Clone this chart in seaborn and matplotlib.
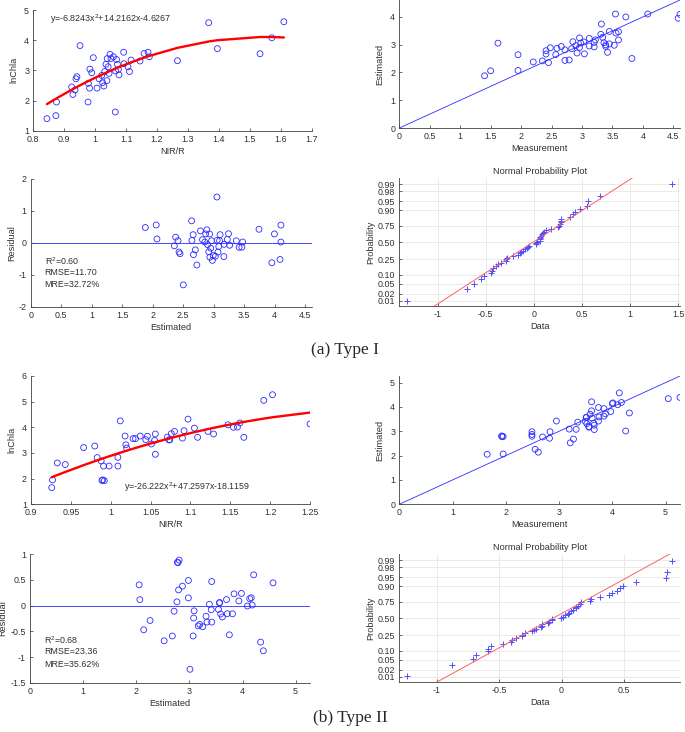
import numpy as np
import pandas as pd
import matplotlib
matplotlib.use('Agg')
import matplotlib.pyplot as plt
import matplotlib.ticker as mticker
import seaborn as sns
from statistics import NormalDist

# Type I: NIR/R band ratio and measured lnChla
nir_1 = [0.844, 0.873, 0.875, 0.924, 0.928, 0.935, 0.938, 0.941, 0.951, 0.977,
         0.978, 0.982, 0.983, 0.989, 0.994, 1.006, 1.013, 1.021, 1.024, 1.028,
         1.031, 1.035, 1.038, 1.039, 1.042, 1.045, 1.048, 1.051, 1.059, 1.065,
         1.066, 1.069, 1.072, 1.075, 1.077, 1.092, 1.093, 1.106, 1.111, 1.116,
         1.145, 1.158, 1.171, 1.175, 1.266, 1.367, 1.395, 1.533, 1.571, 1.610]
chla_1 = [1.40, 1.50, 1.95, 2.45, 2.20, 2.35, 2.72, 2.79, 3.82, 1.95,
          2.57, 2.41, 3.04, 2.92, 3.42, 2.41, 2.72, 2.83, 2.59, 2.48,
          2.96, 3.20, 2.66, 3.39, 3.12, 2.90, 3.53, 3.39, 3.45, 1.62,
          2.98, 3.36, 3.20, 3.03, 2.85, 3.60, 3.22, 3.12, 2.96, 3.34,
          3.31, 3.56, 3.60, 3.45, 3.32, 4.58, 3.72, 3.55, 4.08, 4.61]
# quadratic drawn in panel (a)
curve_1 = [-4.46, 13.83, -6.615]

# Type II
nir_2 = [0.926, 0.927, 0.933, 0.943, 0.966, 0.980, 0.983, 0.988, 0.989, 0.990,
         0.991, 0.992, 0.998, 1.009, 1.009, 1.012, 1.018, 1.019, 1.020, 1.028,
         1.031, 1.037, 1.044, 1.046, 1.051, 1.055, 1.056, 1.056, 1.071, 1.073,
         1.074, 1.076, 1.080, 1.090, 1.092, 1.097, 1.105, 1.109, 1.122, 1.129,
         1.147, 1.154, 1.159, 1.162, 1.167, 1.192, 1.203, 1.250]
chla_2 = [1.65, 1.95, 2.61, 2.55, 3.21, 3.27, 2.82, 2.69, 1.93, 1.95,
          2.49, 1.92, 2.49, 2.49, 2.83, 4.25, 3.66, 3.32, 3.19, 3.56,
          3.56, 3.66, 3.52, 3.65, 3.35, 3.49, 2.95, 3.74, 3.62, 3.51,
          3.51, 3.75, 3.84, 3.58, 3.87, 4.32, 3.97, 3.61, 3.84, 3.74,
          4.10, 4.00, 4.01, 4.17, 3.61, 5.05, 5.27, 4.13]
curve_2 = [-14.05, 38.35, -21.41]

eq_1 = 'y=-6.8243x$^2$+14.2162x-4.6267'
eq_2 = 'y=-26.222x$^2$+47.2597x-18.1159'
stats_1 = ['R$^2$=0.60', 'RMSE=11.70', 'MRE=32.72%']
stats_2 = ['R$^2$=0.68', 'RMSE=23.36', 'MRE=35.62%']
prob_ticks = [0.01, 0.02, 0.05, 0.10, 0.25, 0.50, 0.75, 0.90, 0.95, 0.98, 0.99]

sns.set_style('ticks')
plt.rcParams['font.family'] = ['Liberation Sans', 'DejaVu Sans']
plt.rcParams['mathtext.fontset'] = 'custom'
plt.rcParams['mathtext.rm'] = 'Liberation Sans'
plt.rcParams['mathtext.it'] = 'Liberation Sans:italic'

BLUE = '#2b2bff'
TXT = '#303030'
FS = 6.4
LFS = 6.6
W, H = 685, 732


def build(nir, chla, coef):
    df = pd.DataFrame({'nir': nir, 'chla': chla})
    df['est'] = np.polyval(coef, df['nir'])
    df['res'] = df['est'] - df['chla']
    return df


def add_ax(fig, l, r, t, b):
    ax = fig.add_axes([l / W, 1 - b / H, (r - l) / W, (b - t) / H])
    sns.despine(ax=ax)
    ax.tick_params(direction='in', length=2.5, width=0.5, labelsize=FS,
                   colors=TXT, pad=3)
    for s in ax.spines.values():
        s.set_linewidth(0.6)
        s.set_color('#404040')
    ax.xaxis.set_major_formatter(mticker.FormatStrFormatter('%g'))
    ax.yaxis.set_major_formatter(mticker.FormatStrFormatter('%g'))
    return ax


def circles(ax, x, y):
    sns.scatterplot(x=x, y=y, ax=ax, marker='o', s=18, color='none',
                    edgecolor=BLUE, linewidth=0.6, legend=False)


def fit_panel(ax, df, xlim, ylim, xticks, eq, eq_pos):
    circles(ax, df['nir'], df['chla'])
    sns.lineplot(x=df['nir'], y=df['est'], ax=ax, color='red', lw=1.7,
                 estimator=None, sort=True)
    ax.set_xlim(xlim)
    ax.set_ylim(ylim)
    ax.set_xticks(xticks)
    ax.set_xlabel('NIR/R', fontsize=LFS, color=TXT, labelpad=2)
    ax.set_ylabel('lnChla', fontsize=LFS, color=TXT, labelpad=4)
    ax.text(*eq_pos, eq, fontsize=FS, color=TXT, va='center')


def one2one(ax, df, step):
    lim = max(df['chla'].max(), df['est'].max())
    circles(ax, df['chla'], df['est'])
    ax.axline((0, 0), slope=1, color=BLUE, lw=0.6)
    ax.set_xlim(0, lim)
    ax.set_ylim(0, lim)
    ax.set_xticks(np.arange(0, lim, step))
    ax.set_yticks(np.arange(0, lim, 1))
    ax.set_xlabel('Measurement', fontsize=LFS, color=TXT, labelpad=2)
    ax.set_ylabel('Estimated', fontsize=LFS, color=TXT, labelpad=4)
    return lim


def resid_panel(ax, df, xmax, ylim, xticks, yticks, lines, tx, ty):
    circles(ax, df['est'], df['res'])
    ax.axhline(0, color=BLUE, lw=0.6)
    ax.set_xlim(0, xmax)
    ax.set_ylim(ylim)
    ax.set_xticks(xticks)
    ax.set_yticks(yticks)
    ax.set_xlabel('Estimated', fontsize=LFS, color=TXT, labelpad=2)
    ax.set_ylabel('Residual', fontsize=LFS, color=TXT, labelpad=2)
    for s, yy in zip(lines, ty):
        ax.text(tx, yy, s, fontsize=FS, color=TXT, va='center')


def norm_panel(ax, res, xticks):
    nd = NormalDist()
    r = np.sort(np.asarray(res))
    n = len(r)
    z = np.array([nd.inv_cdf((i - 0.5) / n) for i in range(1, n + 1)])
    ax.grid(True, color='#e6e6e6', lw=0.6)
    ax.set_axisbelow(True)
    sns.scatterplot(x=r, y=z, ax=ax, marker='+', s=24, color='#5050ff',
                    linewidth=0.7, legend=False)
    # reference line through the quartiles, over the data range
    q1, q3 = np.percentile(r, [25, 75])
    z1, z3 = nd.inv_cdf(0.25), nd.inv_cdf(0.75)
    slope = (q3 - q1) / (z3 - z1)
    xl = np.array([r.min(), r.max()])
    ax.plot(xl, z1 + (xl - q1) / slope, color='#ff6060', lw=0.7)
    span = r.max() - r.min()
    ax.set_xlim(r.min() - 0.03 * span, r.max() + 0.03 * span)
    ax.set_ylim(-2.53, 2.57)
    ax.set_xticks(xticks)
    ax.set_yticks([nd.inv_cdf(p) for p in prob_ticks])
    ax.set_yticklabels(['%.2f' % p for p in prob_ticks])
    ax.set_xlabel('Data', fontsize=LFS, color=TXT, labelpad=2)
    ax.set_ylabel('Probability', fontsize=LFS, color=TXT, labelpad=2)
    ax.set_title('Normal Probability Plot', fontsize=LFS, color=TXT, pad=3)


d1 = build(nir_1, chla_1, curve_1)
d2 = build(nir_2, chla_2, curve_2)

fig = plt.figure(figsize=(W / 100, H / 100), dpi=100)

# (a) Type I
ax = add_ax(fig, 33.3, 311.7, 10, 130.7)
fit_panel(ax, d1, (0.8, 1.7), (1, 5), np.arange(0.8, 1.71, 0.1), eq_1, (0.855, 4.7))
ax = add_ax(fig, 399.3, 680, 0, 128)
lim1 = one2one(ax, d1, 0.5)
ax = add_ax(fig, 30.7, 311.7, 179, 306.7)
resid_panel(ax, d1, lim1, (-2, 2), np.arange(0, 4.6, 0.5), [-2, -1, 0, 1, 2],
            stats_1, 0.23, [-0.56, -0.94, -1.31])
ax = add_ax(fig, 399.3, 680, 178.3, 305.7)
norm_panel(ax, d1['res'], [-1, -0.5, 0, 0.5, 1, 1.5])

# (b) Type II
ax = add_ax(fig, 31, 310, 376, 504.3)
fit_panel(ax, d2, (0.9, 1.25), (1, 6), np.arange(0.9, 1.26, 0.05), eq_2, (1.017, 1.65))
ax = add_ax(fig, 399.3, 680, 376, 504.3)
lim2 = one2one(ax, d2, 1)
ax = add_ax(fig, 30, 310, 554.3, 682.7)
resid_panel(ax, d2, lim2, (-1.5, 1), [0, 1, 2, 3, 4, 5], np.arange(-1.5, 1.01, 0.5),
            stats_2, 0.27, [-0.67, -0.90, -1.14])
ax = add_ax(fig, 399.3, 680, 554.3, 681.7)
norm_panel(ax, d2['res'], [-1, -0.5, 0, 0.5])

fig.text(345 / W, 1 - 350 / H, '(a) Type I', ha='center', va='center',
         fontsize=12.5, family=['Liberation Serif', 'DejaVu Serif'])
fig.text(350 / W, 1 - 718 / H, '(b) Type II', ha='center', va='center',
         fontsize=12.5, family=['Liberation Serif', 'DejaVu Serif'])

fig.savefig('out.png', dpi=100, facecolor='white')
